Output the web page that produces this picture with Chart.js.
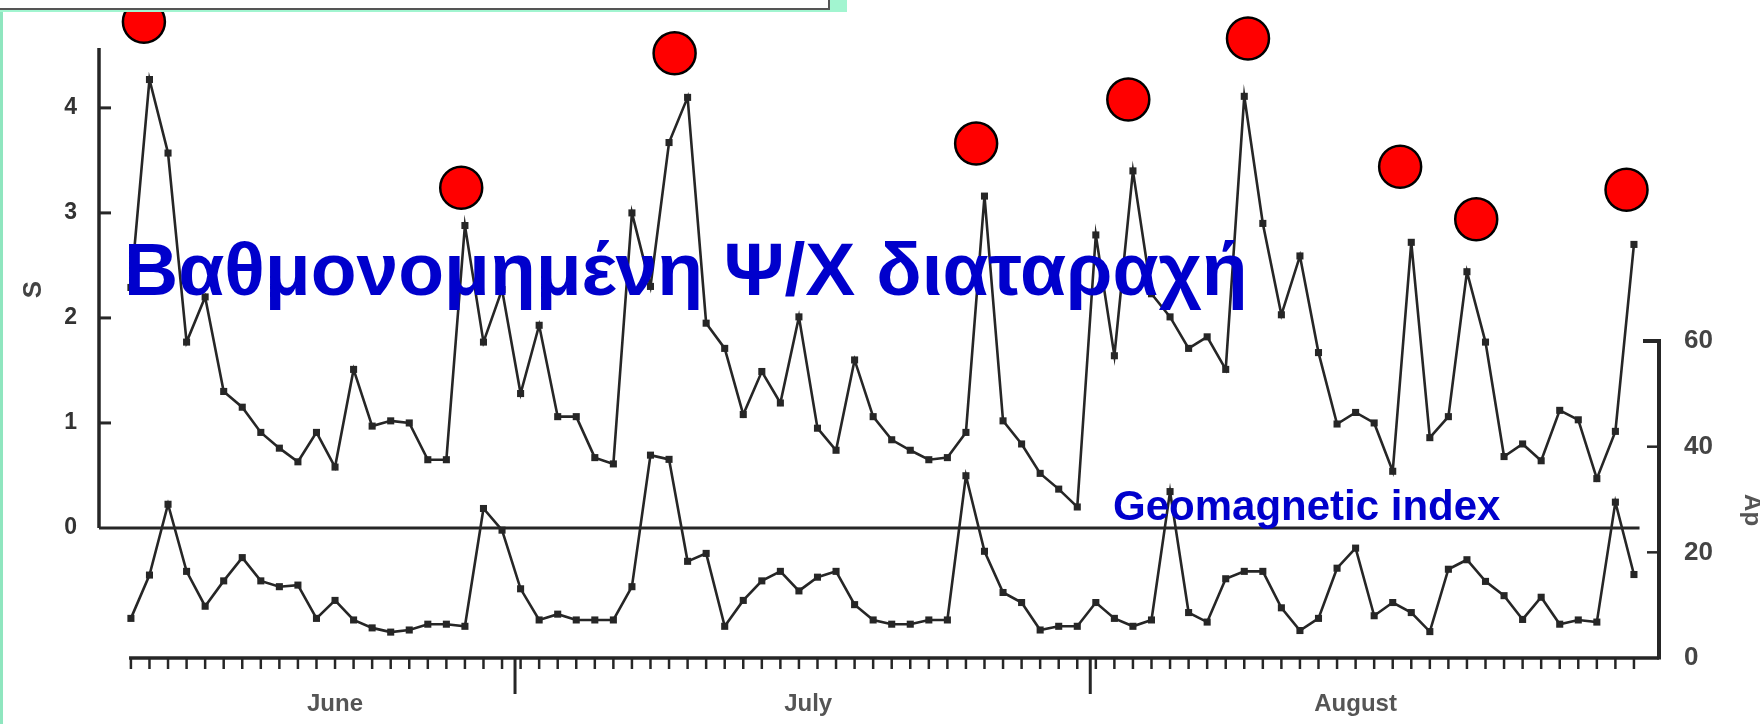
<!DOCTYPE html>
<html>
<head>
<meta charset="utf-8">
<title>S index and geomagnetic index, June - August</title>
<script src="https://cdn.jsdelivr.net/npm/chart.js@4.4.1/dist/chart.umd.min.js"></script>
<style>
    html, body { margin: 0; padding: 0; background: #fff; }
    body { position: relative; width: 1760px; height: 724px; overflow: hidden; font-family: 'Liberation Sans', Arial, sans-serif; }
    #chart { position: absolute; left: 0; top: 0; }
    .frame-left { position: absolute; left: 0; top: 0; width: 3px; height: 724px; background: #8fe6bf; }
    .topbox-back { position: absolute; left: 0; top: 0; width: 847px; height: 12px; background: #a2f5d0; }
    .topbox { position: absolute; left: -3px; top: -3px; width: 829px; height: 9px; background: #fff; border: 2px solid #555; }
    .overlay { position: absolute; color: #0000cc; font-weight: bold; white-space: nowrap; line-height: 1; }
    #bigLabel { left: 124px; top: 232px; font-size: 75px; }
    #geoLabel { left: 1113px; top: 485px; font-size: 42px; }
</style>
</head>
<body>
<canvas id="chart" width="1760" height="724"></canvas>
<div class="frame-left"></div>
<div class="topbox-back"></div>
<div class="topbox"></div>
<div class="overlay" id="bigLabel">Βαθμονομημένη Ψ/Χ διαταραχή</div>
<div class="overlay" id="geoLabel">Geomagnetic index</div>

<script>
// ---- data (one value per day, June 10 -> August 30; day 1 = June 1) ----
const firstDay = 10;

// upper curve, left axis "S"
const sValues = [
    2.29, 4.27, 3.57, 1.77, 2.2, 1.30, 1.15, 0.91, 0.76, 0.63,
    0.91, 0.58, 1.51, 0.97, 1.02, 1.0, 0.65, 0.65, 2.88, 1.77,
    2.27, 1.28, 1.93, 1.06, 1.06, 0.67, 0.61, 3.0, 2.3, 3.67,
    4.1, 1.95, 1.71, 1.08, 1.49, 1.19, 2.01, 0.95, 0.74, 1.60,
    1.06, 0.84, 0.74, 0.65, 0.67, 0.91, 3.16, 1.02, 0.80, 0.52,
    0.37, 0.20, 2.79, 1.64, 3.40, 2.23, 2.01, 1.71, 1.82, 1.51,
    4.11, 2.90, 2.03, 2.59, 1.67, 0.99, 1.10, 1.0, 0.54, 2.72,
    0.86, 1.06, 2.44, 1.77, 0.68, 0.80, 0.64, 1.12, 1.03, 0.47,
    0.92, 2.7
];

// lower curve, right axis (geomagnetic index)
const apValues = [
    7.5, 15.7, 29.1, 16.4, 9.8, 14.6, 19.0, 14.6, 13.5, 13.8,
    7.5, 10.9, 7.2, 5.7, 4.9, 5.3, 6.4, 6.4, 6.0, 28.3,
    24.2, 13.1, 7.2, 8.3, 7.2, 7.2, 7.2, 13.5, 38.4, 37.6,
    18.3, 19.8, 6.0, 10.9, 14.6, 16.4, 12.7, 15.3, 16.4, 10.1,
    7.2, 6.4, 6.4, 7.2, 7.2, 34.5, 20.2, 12.4, 10.5, 5.3,
    6.0, 6.0, 10.5, 7.5, 6.0, 7.2, 31.5, 8.6, 6.8, 15.0,
    16.4, 16.4, 9.5, 5.2, 7.5, 17.0, 20.8, 8.0, 10.5, 8.6,
    5.0, 16.8, 18.6, 14.5, 11.8, 7.3, 11.5, 6.4, 7.2, 6.8,
    29.5, 15.8
];

// red disturbance markers above the peaks
const markerDays = [10.7, 27.8, 39.3, 55.55, 63.75, 70.2, 78.4, 82.5, 90.6];
const markerLevels = [4.82, 3.24, 4.52, 3.66, 4.08, 4.66, 3.44, 2.94, 3.22];

const monthNames = ['June', 'July', 'August'];
const monthLabelDays = [21, 46.5, 76];
const monthStartDays = [31, 62];
const sTicks = [0, 1, 2, 3, 4];
const sAxisTop = 4.57;
const apTicks = [0, 20, 40, 60];

const days = sValues.map((v, i) => firstDay + i);

const ink = '#262626';
const labelFont = "'Liberation Sans Narrow', 'Liberation Sans', Arial, sans-serif";

// hand drawn looking axes: S axis stops at zero, day axis with daily ticks
const axesPlugin = {
    id: 'axesPlugin',
    beforeDatasetsDraw(chart) {
        const { ctx, chartArea: a, scales: { x, y, y2 } } = chart;
        const seg = (x1, y1, x2, y2_) => { ctx.beginPath(); ctx.moveTo(x1, y1); ctx.lineTo(x2, y2_); ctx.stroke(); };
        ctx.save();
        ctx.strokeStyle = ink;

        const y0 = y.getPixelForValue(0);
        ctx.lineWidth = 3.5;
        seg(a.left, y.getPixelForValue(sAxisTop), a.left, y0);
        ctx.lineWidth = 3;
        sTicks.filter(v => v > 0).forEach(v => {
            const py = y.getPixelForValue(v);
            seg(a.left, py, a.left + 12, py);
        });
        seg(a.left, y0, x.getPixelForValue(91.3), y0);

        const yb = a.bottom;
        ctx.lineWidth = 3.5;
        seg(x.getPixelForValue(9.9), yb, a.right, yb);
        ctx.lineWidth = 2.5;
        days.forEach(d => {
            const px = x.getPixelForValue(d);
            seg(px, yb, px, yb + 11);
        });
        ctx.lineWidth = 3;
        monthStartDays.forEach(d => {
            const px = x.getPixelForValue(d - 0.3);
            seg(px, yb, px, yb + 36);
        });

        const top2 = y2.getPixelForValue(60);
        ctx.lineWidth = 4;
        seg(a.right, yb + 1.5, a.right, top2);
        seg(a.right - 16, top2, a.right + 2, top2);
        ctx.lineWidth = 2.5;
        [20, 40].forEach(v => {
            const py = y2.getPixelForValue(v);
            seg(a.right - 12, py, a.right, py);
        });
        ctx.restore();
    },
    afterDraw(chart) {
        const { ctx, scales: { y, y2 } } = chart;
        ctx.save();
        ctx.fillStyle = '#444';
        ctx.textAlign = 'center';
        ctx.textBaseline = 'middle';
        ctx.font = 'bold 26px ' + labelFont;
        ctx.translate(34, y.getPixelForValue(2.27));
        ctx.rotate(-Math.PI / 2);
        ctx.fillText('S', 0, 0);
        ctx.restore();

        ctx.save();
        ctx.fillStyle = '#555';
        ctx.textAlign = 'center';
        ctx.textBaseline = 'middle';
        ctx.font = 'bold 24px ' + labelFont;
        ctx.translate(1752, y2.getPixelForValue(28));
        ctx.rotate(Math.PI / 2);
        ctx.fillText('Ap', 0, 0);
        ctx.restore();
    }
};

// fixed axis boxes, no extra label padding above / below the plot
const fitVertical = width => s => {
    s.width = width;
    s.paddingTop = 0;
    s.paddingBottom = 0;
};

new Chart(document.getElementById('chart'), {
    type: 'line',
    data: {
        datasets: [
            {
                label: 'markers',
                data: markerDays.map((d, i) => ({ x: d, y: markerLevels[i] })),
                yAxisID: 'y',
                showLine: false,
                pointStyle: 'circle',
                pointRadius: 21,
                pointBackgroundColor: '#ff0000',
                pointBorderColor: '#000',
                pointBorderWidth: 2.5,
                clip: false,
                order: 0
            },
            {
                label: 'S',
                data: days.map((d, i) => ({ x: d, y: sValues[i] })),
                yAxisID: 'y',
                borderColor: ink,
                borderWidth: 2.6,
                pointStyle: 'rect',
                pointRadius: 5,
                pointBackgroundColor: ink,
                pointBorderWidth: 0,
                tension: 0,
                order: 1
            },
            {
                label: 'Geomagnetic index',
                data: days.map((d, i) => ({ x: d, y: apValues[i] })),
                yAxisID: 'y2',
                borderColor: ink,
                borderWidth: 2.6,
                pointStyle: 'rect',
                pointRadius: 5,
                pointBackgroundColor: ink,
                pointBorderWidth: 0,
                tension: 0,
                order: 2
            }
        ]
    },
    options: {
        responsive: false,
        animation: false,
        devicePixelRatio: 1,
        layout: { autoPadding: false, padding: { top: 10, left: 0, right: 0, bottom: 0 } },
        plugins: {
            legend: { display: false },
            tooltip: { enabled: false }
        },
        scales: {
            x: {
                type: 'linear',
                min: 8.28,
                max: 92.35,
                grid: { display: false, drawTicks: false },
                border: { display: false },
                afterFit: s => { s.height = 66; },
                afterBuildTicks: s => { s.ticks = monthLabelDays.map(v => ({ value: v })); },
                ticks: {
                    autoSkip: false,
                    maxRotation: 0,
                    padding: 32,
                    color: '#555',
                    font: { size: 24, weight: 'bold', family: labelFont },
                    callback: (v, i) => monthNames[i]
                }
            },
            y: {
                position: 'left',
                min: -1.238,
                max: 4.932,
                grid: { display: false, drawTicks: false },
                border: { display: false },
                afterFit: fitVertical(99),
                afterBuildTicks: s => { s.ticks = sTicks.map(v => ({ value: v })); },
                ticks: {
                    padding: 22,
                    color: '#333',
                    font: { size: 23, weight: 'bold', family: labelFont }
                }
            },
            y2: {
                position: 'right',
                min: 0,
                max: 122.66,
                grid: { display: false, drawTicks: false },
                border: { display: false },
                afterFit: fitVertical(101),
                afterBuildTicks: s => { s.ticks = apTicks.map(v => ({ value: v })); },
                ticks: {
                    padding: 25,
                    color: '#444',
                    font: { size: 26, weight: 'bold', family: labelFont }
                }
            }
        }
    },
    plugins: [axesPlugin]
});
</script>
</body>
</html>
